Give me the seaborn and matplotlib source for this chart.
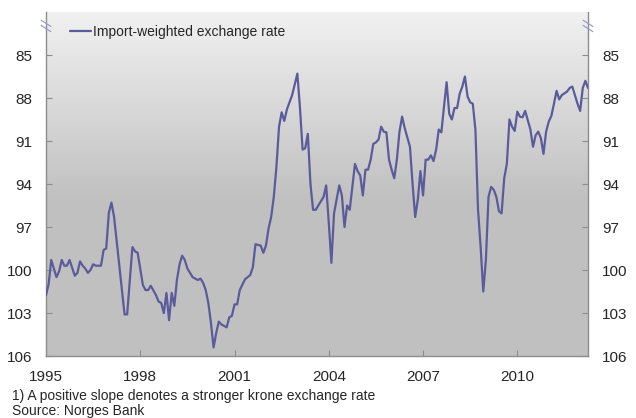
import numpy as np
import pandas as pd
import seaborn as sns
import matplotlib
matplotlib.use('Agg')
import matplotlib.pyplot as plt

# monthly readings of the import-weighted exchange rate (inverted axis in chart)
months = ['1995-01', '1995-02', '1995-03', '1995-05', '1995-06', '1995-07', '1995-08', '1995-09',
          '1995-10', '1995-12', '1996-01', '1996-02', '1996-03', '1996-04', '1996-05', '1996-06',
          '1996-07', '1996-08', '1996-10', '1996-11', '1996-12', '1997-01', '1997-02', '1997-03',
          '1997-07', '1997-08', '1997-09', '1997-10', '1997-11', '1997-12', '1998-02', '1998-03',
          '1998-04', '1998-05', '1998-07', '1998-08', '1998-09', '1998-10', '1998-11', '1998-12',
          '1999-01', '1999-02', '1999-03', '1999-04', '1999-05', '1999-06', '1999-07', '1999-09',
          '1999-10', '1999-11', '1999-12', '2000-01', '2000-02', '2000-03', '2000-04', '2000-05',
          '2000-06', '2000-07', '2000-08', '2000-09', '2000-10', '2000-11', '2000-12', '2001-01',
          '2001-02', '2001-03', '2001-05', '2001-07', '2001-08', '2001-09', '2001-11', '2001-12',
          '2002-01', '2002-02', '2002-03', '2002-04', '2002-05', '2002-06', '2002-07', '2002-08',
          '2002-09', '2002-10', '2002-11', '2002-12', '2003-01', '2003-02', '2003-03', '2003-04',
          '2003-05', '2003-06', '2003-07', '2003-08', '2003-09', '2003-11', '2003-12', '2004-01',
          '2004-02', '2004-03', '2004-05', '2004-06', '2004-07', '2004-08', '2004-09', '2004-11',
          '2004-12', '2005-01', '2005-02', '2005-03', '2005-04', '2005-05', '2005-06', '2005-07',
          '2005-08', '2005-09', '2005-10', '2005-11', '2005-12', '2006-01', '2006-02', '2006-03',
          '2006-04', '2006-05', '2006-06', '2006-08', '2006-09', '2006-10', '2006-11', '2006-12',
          '2007-01', '2007-02', '2007-03', '2007-04', '2007-05', '2007-06', '2007-07', '2007-08',
          '2007-09', '2007-10', '2007-11', '2007-12', '2008-01', '2008-02', '2008-03', '2008-04',
          '2008-05', '2008-06', '2008-07', '2008-08', '2008-09', '2008-10', '2008-11', '2008-12',
          '2009-01', '2009-02', '2009-03', '2009-04', '2009-05', '2009-06', '2009-07', '2009-08',
          '2009-09', '2009-10', '2009-11', '2009-12', '2010-01', '2010-02', '2010-03', '2010-04',
          '2010-06', '2010-07', '2010-08', '2010-09', '2010-10', '2010-11', '2010-12', '2011-01',
          '2011-02', '2011-03', '2011-04', '2011-05', '2011-06', '2011-08', '2011-09', '2011-10',
          '2011-11', '2011-12', '2012-01', '2012-02', '2012-03', '2012-04']
rate = [101.75, 101.0, 99.3, 100.5, 100.1, 99.3, 99.7, 99.7,
        99.3, 100.4, 100.2, 99.4, 99.7, 99.9, 100.2, 100.0,
        99.6, 99.7, 99.7, 98.6, 98.5, 96.0, 95.3, 96.3,
        103.1, 103.1, 100.7, 98.4, 98.7, 98.8, 101.05, 101.4,
        101.4, 101.1, 101.75, 102.2, 102.3, 103.0, 101.6, 103.5,
        101.6, 102.5, 100.7, 99.6, 99.0, 99.3, 99.9, 100.5,
        100.6, 100.7, 100.6, 100.9, 101.4, 102.3, 103.7, 105.4,
        104.4, 103.6, 103.8, 103.9, 104.0, 103.3, 103.2, 102.4,
        102.4, 101.4, 100.65, 100.35, 99.8, 98.2, 98.3, 98.8,
        98.3, 97.1, 96.3, 94.9, 92.8, 90.0, 89.0, 89.6,
        88.8, 88.3, 87.8, 87.05, 86.3, 88.7, 91.6, 91.5,
        90.5, 94.0, 95.8, 95.8, 95.5, 94.9, 94.1, 96.7,
        99.5, 96.05, 94.1, 94.8, 97.0, 95.5, 95.8, 92.6,
        93.1, 93.4, 94.8, 93.0, 93.0, 92.3, 91.2, 91.1,
        90.9, 90.0, 90.35, 90.4, 92.3, 93.0, 93.6, 92.3,
        90.35, 89.3, 90.1, 91.4, 94.0, 96.3, 95.1, 93.1,
        94.8, 92.3, 92.3, 92.0, 92.4, 91.6, 90.2, 90.4,
        88.6, 86.9, 89.1, 89.5, 88.7, 88.7, 87.7, 87.2,
        86.5, 87.9, 88.3, 88.4, 90.2, 95.8, 98.4, 101.5,
        99.3, 94.9, 94.2, 94.4, 94.9, 95.9, 96.05, 93.6,
        92.6, 89.5, 90.0, 90.3, 88.95, 89.3, 89.35, 88.9,
        90.2, 91.4, 90.6, 90.35, 90.8, 91.9, 90.35, 89.65,
        89.25, 88.4, 87.5, 88.1, 87.8, 87.55, 87.3, 87.2,
        87.8, 88.4, 88.9, 87.3, 86.8, 87.3]

series_name = 'Import-weighted exchange rate'
y_ticks = [85, 88, 91, 94, 97, 100, 103, 106]
x_ticks = [1995, 1998, 2001, 2004, 2007, 2010]
note = '1) A positive slope denotes a stronger krone exchange rate'
source = 'Source: Norges Bank'

df = pd.DataFrame({'month': pd.to_datetime(months), 'rate': rate})
df['year'] = df['month'].dt.year + (df['month'].dt.month - 1) / 12.0

sns.set_style('ticks')
plt.rcParams['font.family'] = ['Liberation Sans', 'DejaVu Sans']

line_color = '#5b5b9c'
axis_grey = '#8c8c8c'

fig = plt.figure(figsize=(6.36, 4.18), dpi=100)
ax = fig.add_axes([46/636, 1-356/418, 542/636, 344/418])

# grey gradient background, light at the top
n = 256
shade = np.clip(0.945 - (0.945 - 0.753) * np.linspace(0, 1, n) / 0.55, 0.753, 1.0)
grad = np.dstack([shade, shade, shade]).reshape(n, 1, 3)
ax.imshow(grad, extent=(0, 1, 0, 1), transform=ax.transAxes, aspect='auto',
          origin='upper', zorder=0, interpolation='bilinear')

sns.lineplot(data=df, x='year', y='rate', ax=ax, color=line_color, linewidth=1.6,
             label=series_name, zorder=3)

ax.set_xlim(1995, df['year'].iloc[-1])
ax.set_ylim(106, 82)
ax.set_xticks(x_ticks)
ax.set_xticklabels([str(t) for t in x_ticks])
ax.set_yticks(y_ticks)
ax.set_yticklabels([str(t) for t in y_ticks])
ax.set_xlabel('')
ax.set_ylabel('')

ax.tick_params(axis='y', direction='in', left=True, right=True, labelleft=True, labelright=True,
               length=4, width=0.8, color=axis_grey, labelsize=11, pad=10)
ax.tick_params(axis='x', direction='in', length=4, width=0.8, color=axis_grey, labelsize=11, pad=10)

for side in ['left', 'right', 'bottom']:
    ax.spines[side].set_visible(True)
    ax.spines[side].set_color(axis_grey)
    ax.spines[side].set_linewidth(1.0)
ax.spines['top'].set_visible(False)

# axis break marks near the top
for xa in [0.0, 1.0]:
    for ya in [0.967, 0.952]:
        ax.plot([xa - 0.009, xa + 0.009], [ya + 0.009, ya - 0.009], transform=ax.transAxes,
                color='#9c9cc8', linewidth=0.9, clip_on=False, zorder=5)

leg = ax.legend(loc='center left', bbox_to_anchor=(0.044, 0.942), borderaxespad=0,
                borderpad=0, frameon=False, fontsize=10, handlelength=1.5, handletextpad=0.15)

fig.text(12/636, 1-396/418, note, fontsize=10, va='center', ha='left')
fig.text(12/636, 1-411/418, source, fontsize=10, va='center', ha='left')

fig.savefig('out.png', dpi=100)
